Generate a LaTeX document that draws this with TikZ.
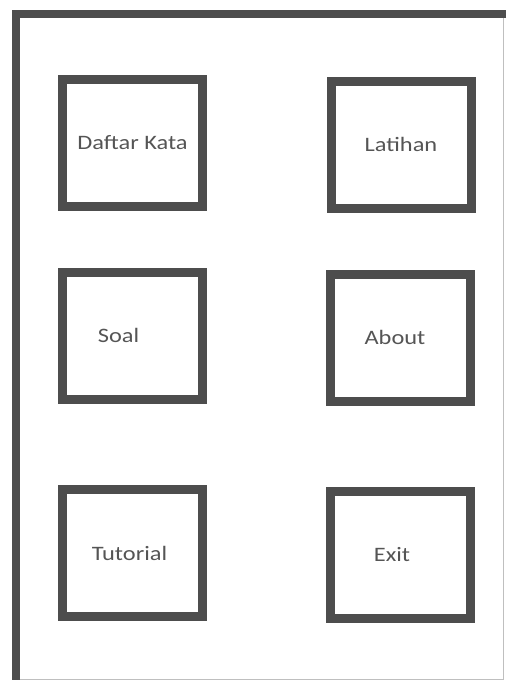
\documentclass[tikz,border=0pt]{standalone}
\usepackage{fontspec}
\setmainfont{Carlito}[FakeStretch=1.19]

\definecolor{edge}{HTML}{4D4D4D}
\definecolor{ink}{HTML}{555555}

\begin{document}
\begin{tikzpicture}[x=1pt,y=-1pt,
  menu/.style={draw=edge,line width=9pt,minimum width=140pt,minimum height=127pt,inner sep=0pt},
  caption/.style={text=ink,font=\fontsize{20.5}{24}\selectfont},
  frame/.style={draw=edge,line width=8pt}]
  \useasboundingbox[fill=white] (0,0) rectangle (506,680);
  % screen outline
  \draw[black!25,line width=1pt] (503,18) -- (503,679) -- (20,679);
  \draw[frame] (506,14) -- (16,14) -- (16,680);
  % menu buttons
  \node[menu,label={[caption]center:Daftar Kata}] (kata) at (132.5,142.5) {};
  \node[menu,label={[caption]center:Latihan}] (latihan) at (401,144.5) {};
  \node[menu,label={[caption,xshift=-14pt]center:Soal}] (soal) at (132.5,335.5) {};
  \node[menu,label={[caption,xshift=-5pt]center:About}] (about) at (400,337.5) {};
  \node[menu,label={[caption,xshift=-3pt]center:Tutorial}] (tutorial) at (132.5,553) {};
  \node[menu,label={[caption,xshift=-8pt]center:Exit}] (exit) at (400,555) {};
\end{tikzpicture}
\end{document}
